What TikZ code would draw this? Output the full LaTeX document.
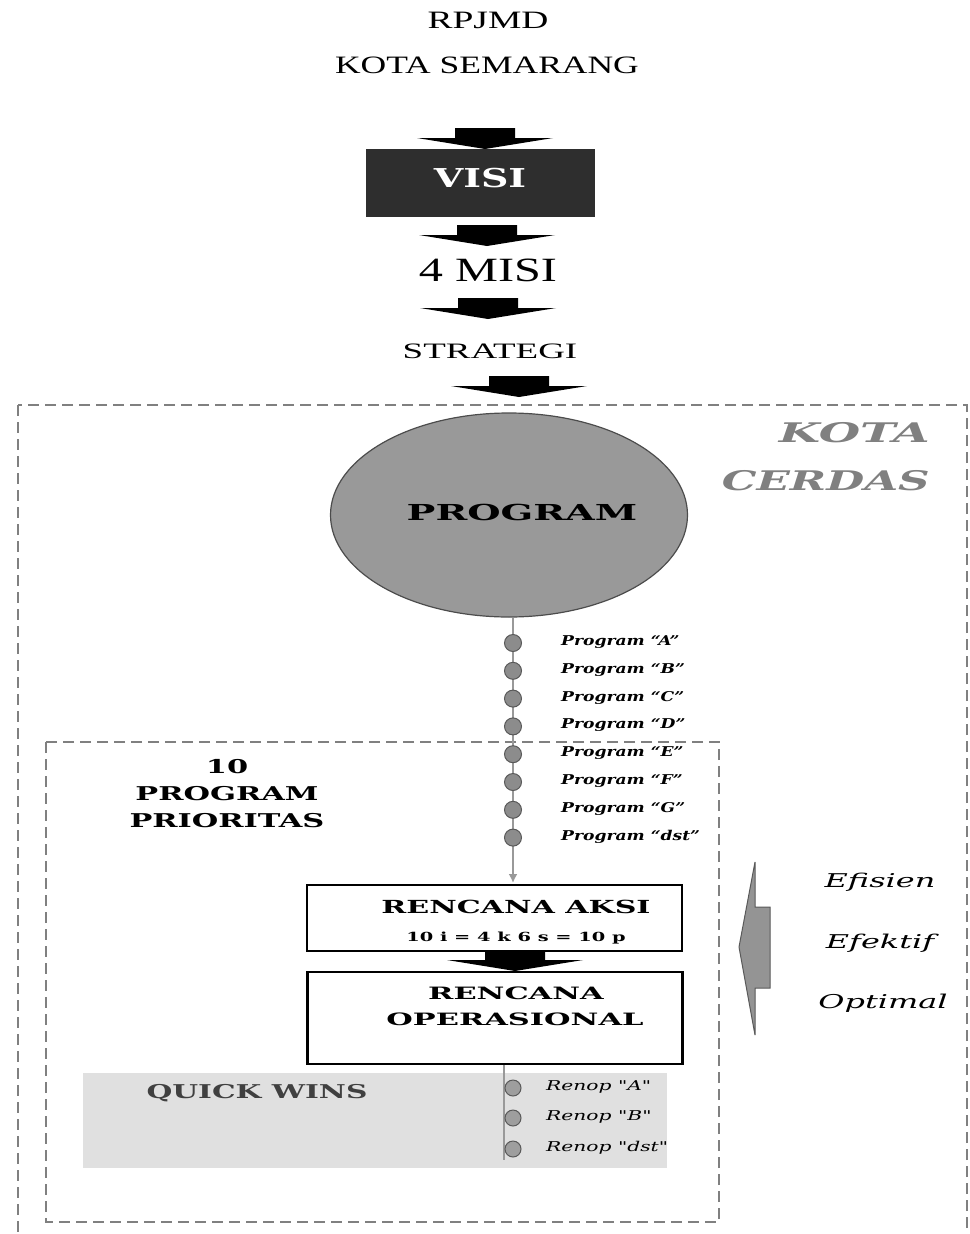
\documentclass[tikz,border=0pt]{standalone}
\usepackage{fontspec}
\setmainfont{Liberation Serif}
\newfontfamily\bk{DejaVu Serif}
\usetikzlibrary{shapes.geometric,arrows.meta,positioning}
\newcommand{\fsz}[2]{\fontsize{#1}{#2}\selectfont}
\newcommand{\sx}[2][1.4]{\scalebox{#1}[1]{#2}}
\begin{document}
\begin{tikzpicture}[x=1pt,y=-1pt,
    lbl/.style={inner sep=0pt},
    dashbox/.style={draw=black!50,dash pattern=on 11pt off 6pt,line width=2.5pt},
    gline/.style={draw=black!40,line width=2.5pt},
    dot/.style={circle,draw=black!65,fill=black!45,line width=1pt,minimum width=17pt,inner sep=0pt},
    rdot/.style={dot,fill=black!38,minimum width=16pt},
    box/.style={draw,line width=2.5pt,minimum width=375pt,inner sep=0pt},
    blockarrow/.pic={\fill[black] (-30,0) -- (30,0) -- (30,10) -- (68,10) -- (0,21) -- (-68,10) -- (-30,10) -- cycle;}]
  \useasboundingbox (0,0) rectangle (969,1234);
  \node[lbl] (rpjmd) at (488,20) {\sx[1.5]{\fsz{25}{25}RPJMD}};
  \node[lbl] (kota) at (487,65) {\sx[1.42]{\fsz{25}{25}KOTA SEMARANG}};
  \pic at (485,128) {blockarrow};
  \node[fill=black!82,minimum width=229pt,minimum height=68pt,inner sep=0pt] (visi) at (480.5,183) {};
  \node[lbl,text=white] (visit) at (480,178) {\sx[1.46]{\bk\fsz{26}{26}\bfseries VISI}};
  \pic at (487,225) {blockarrow};
  \node[lbl] (misi) at (488,270) {\sx[1.42]{\fsz{34}{34}4 MISI}};
  \pic at (488,298) {blockarrow};
  \node[lbl] (strat) at (490,351) {\sx[1.68]{\fsz{22}{22}STRATEGI}};
  \pic at (519,376) {blockarrow};
  \draw[dashbox] (18,405) rectangle (967,1260);
  \draw[dashbox] (46,742) rectangle (719,1222);
  \node[lbl,anchor=east,text=black!50] (kt) at (930,433) {\sx[1.76]{\bk\fsz{27}{27}\bfseries\itshape KOTA}};
  \node[lbl,anchor=east,text=black!50] (cd) at (930,481) {\sx[1.62]{\bk\fsz{27}{27}\bfseries\itshape CERDAS}};
  \node[ellipse,draw=black!70,fill=black!40,line width=1.2pt,minimum width=357pt,minimum height=204pt] (prog) at (509,515) {};
  \node[lbl] (progt) at (522,512) {\sx[1.74]{\bk\fsz{22}{22}\bfseries PROGRAM}};
  \node[box,minimum height=66pt] (aksi) at (494.5,918) {};
  \node[box,minimum height=92pt] (ops) at (495,1018) {};
  \draw[gline,-{Latex[length=9pt,width=9pt]}] (prog.south -| 513,0) -- (513,883);
  \foreach \t [count=\i] in {A,B,C,D,E,F,G,dst} {
    \node[dot] (d\i) at (513,615.2+27.8*\i) {};
    \node[lbl,anchor=west] (p\i) at (561,614.2+27.8*\i) {\sx[1.27]{\bk\fsz{13.5}{13.5}\bfseries\itshape Program “\t”}};
  }
  \node[lbl] (aksit) at (516,907) {\sx[1.67]{\bk\fsz{18}{18}\bfseries RENCANA AKSI}};
  \node[lbl] (rumus) at (516,938) {\sx[1.55]{\bk\fsz{12.5}{12.5}\bfseries 10 i = 4 k 6 s = 10 p}};
  \pic at (515,950) {blockarrow};
  \node[lbl] (opst) at (516,993) {\sx[1.79]{\bk\fsz{17}{17}\bfseries RENCANA}};
  \node[lbl] (opst2) at (515,1019) {\sx[1.79]{\bk\fsz{17}{17}\bfseries OPERASIONAL}};
  \fill[black!12] (83,1073) rectangle (667,1168);
  \node[lbl,text=black!75] (qw) at (257,1093) {\sx[1.56]{\bk\fsz{19}{19}\bfseries QUICK WINS}};
  \coordinate (rend) at (504,1160);
  \draw[gline] (ops.south -| rend) -- (rend);
  \foreach \t/\y [count=\i] in {A/1088,B/1118,dst/1149} {
    \node[rdot] (r\i) at (513,\y) {};
    \node[lbl,anchor=west] (rl\i) at (546,\y-1) {\sx[1.5]{\bk\fsz{13.5}{13.5}\itshape Renop "\t"}};
  }
  \node[lbl] (tprio) at (227,795) {\sx[1.6]{\bk\fsz{19}{27}\bfseries\begin{tabular}{@{}c@{}}10\\PROGRAM\\PRIORITAS\end{tabular}}};
  \draw[draw=black!65,fill=black!42,line width=1pt] (739,947) -- (755,862) -- (755,907) -- (770,907) -- (770,988) -- (755,988) -- (755,1035) -- cycle;
  \node[lbl] (ef1) at (880,882) {\sx[1.68]{\bk\fsz{19}{19}\itshape Efisien}};
  \node[lbl] (ef2) at (880,943) {\sx[1.68]{\bk\fsz{19}{19}\itshape Efektif}};
  \node[lbl] (ef3) at (883,1003) {\sx[1.68]{\bk\fsz{19}{19}\itshape Optimal}};
\end{tikzpicture}
\end{document}
